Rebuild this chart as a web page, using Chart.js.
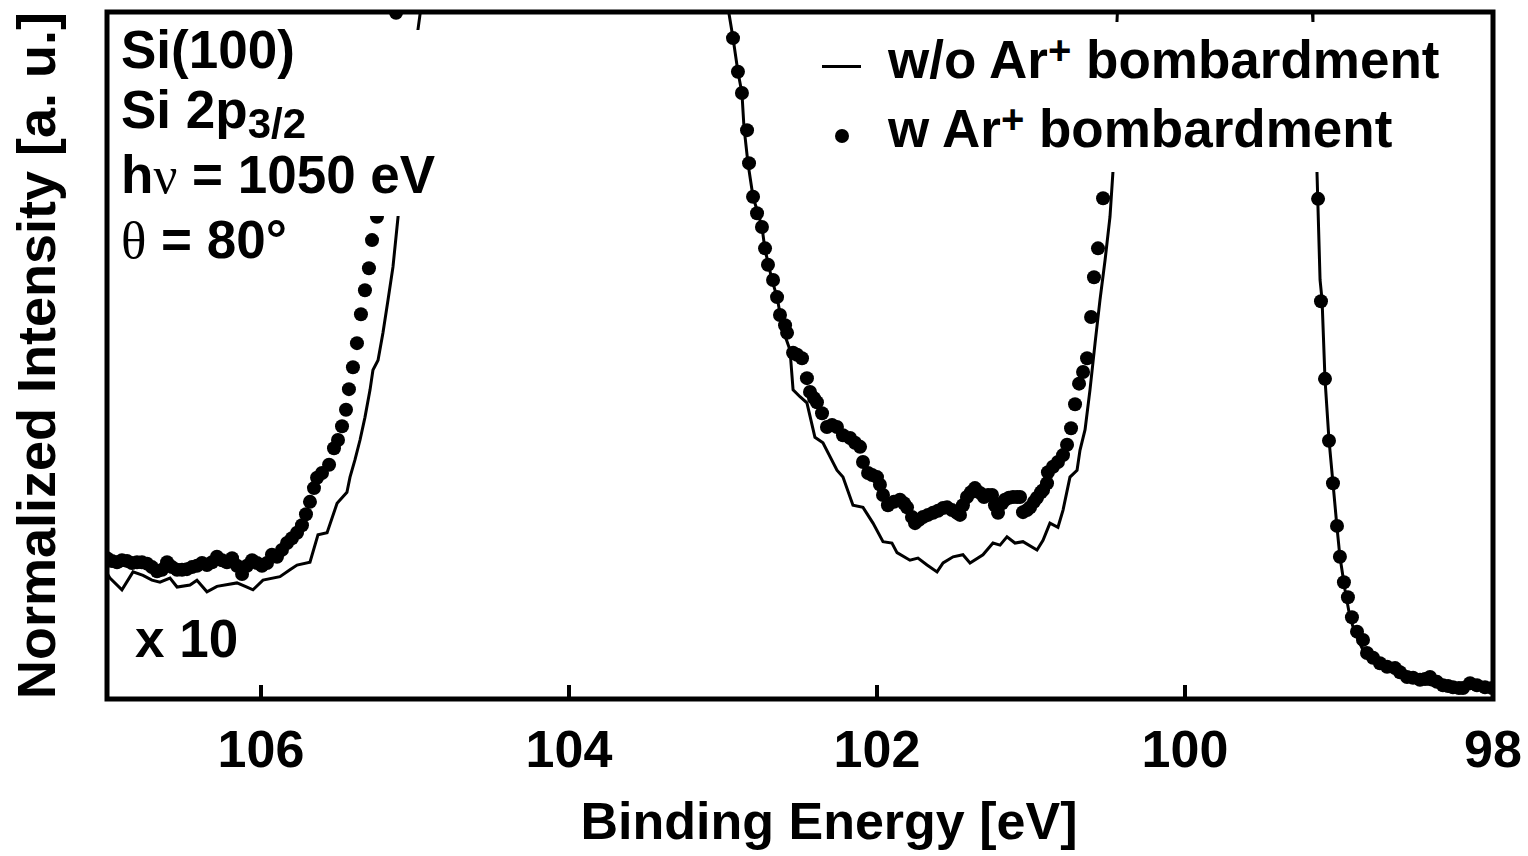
<!DOCTYPE html>
<html>
<head>
<meta charset="utf-8">
<script src="https://cdn.jsdelivr.net/npm/chart.js@4.4.1/dist/chart.umd.min.js"></script>
<style>
  html, body { margin: 0; padding: 0; background: #fff; }
  .wrap {
    position: relative;
    width: 1528px;
    height: 856px;
    font-family: "Liberation Sans", Arial, sans-serif;
    font-weight: bold;
    color: #000;
  }
  #spectrum { position: absolute; left: 0; top: 0; }
  .cover { position: absolute; background: #fff; }
  .txt { position: absolute; font-size: 53px; line-height: 53px; white-space: nowrap; }
  .greek { font-family: "Liberation Serif", "Times New Roman", serif; font-weight: normal; }
  .sub { font-size: 42px; position: relative; top: 10px; }
  .sup { font-size: 40px; position: relative; top: -14px; }
  .key-line { position: absolute; left: 822px; top: 65px; width: 39px; height: 3px; background: #000; }
  .key-dot { position: absolute; left: 835px; top: 129px; width: 14px; height: 14px; border-radius: 50%; background: #000; }
  .x-title { position: absolute; left: 529px; top: 795px; width: 600px; text-align: center; font-size: 52px; line-height: 52px; white-space: nowrap; }
</style>
</head>
<body>
<div class="wrap">
  <canvas id="spectrum" width="1528" height="856"></canvas>

  <!-- 텍스트 박스 (흰 배경이 곡선을 가림) -->
  <div class="cover" style="left:110px; top:30px; width:330px; height:186px;"></div>
  <div class="txt" style="left:121px; top:23px;">Si(100)</div>
  <div class="txt" style="left:121px; top:83px;">Si 2p<span class="sub">3/2</span></div>
  <div class="txt" style="left:121px; top:148px;">h<span class="greek">&nu;</span> = 1050 eV</div>
  <div class="txt" style="left:121px; top:213px;"><span class="greek">&theta;</span> = 80°</div>
  <div class="txt" style="left:135px; top:612px;">x 10</div>

  <!-- legend -->
  <div class="cover" style="left:800px; top:22px; width:650px; height:150px;"></div>
  <div class="key-line"></div>
  <div class="key-dot"></div>
  <div class="txt" style="left:888px; top:33px;">w/o Ar<span class="sup">+</span> bombardment</div>
  <div class="txt" style="left:888px; top:102px;">w Ar<span class="sup">+</span> bombardment</div>

  <!-- x 축 제목 -->
  <div class="x-title">Binding Energy [eV]</div>
</div>

<script>
// ---------- data -----------
// 결합 에너지 눈금
const tickValues = [106, 104, 102, 100, 98];

// w/o Ar+ : 실선 (100 이상은 그래프 밖으로 잘림)
const woEnergy = [
  107.000, 106.981, 106.903, 106.831, 106.766, 106.708, 106.656, 106.591, 106.545, 106.461,
  106.416, 106.351, 106.286, 106.156, 106.091, 106.052, 105.987, 105.877, 105.812, 105.766,
  105.682, 105.630, 105.571, 105.506, 105.442, 105.422, 105.390, 105.357, 105.325, 105.292,
  105.273, 105.240, 105.208, 105.175, 105.143, 105.110, 105.065, 105.019, 104.981, 104.961,
  104.942, 102.981, 102.968, 102.935, 102.903, 102.877, 102.864, 102.838, 102.805, 102.773,
  102.747, 102.727, 102.682, 102.649, 102.610, 102.565, 102.545, 102.500, 102.455, 102.403,
  102.351, 102.260, 102.221, 102.156, 102.091, 102.026, 101.961, 101.903, 101.870, 101.786,
  101.734, 101.675, 101.610, 101.571, 101.506, 101.442, 101.396, 101.312, 101.247, 101.201,
  101.156, 101.104, 101.052, 100.961, 100.922, 100.877, 100.825, 100.792, 100.747, 100.701,
  100.682, 100.649, 100.617, 100.584, 100.552, 100.519, 100.487, 100.468, 100.455, 100.442,
  100.429, 99.182, 99.175, 99.169, 99.143, 99.123, 99.110, 99.091, 99.065, 99.039,
  99.013, 98.994, 98.961, 98.929, 98.896, 98.844, 98.779, 98.688, 98.604, 98.494,
  98.390, 98.279, 98.169, 98.039, 98.000,
];
const woIntensity = [
  18.3, 17.6, 15.9, 18.5, 18.0, 17.3, 17.0, 17.6, 16.3, 16.6,
  17.3, 15.6, 16.4, 16.9, 16.3, 15.9, 17.3, 17.8, 18.8, 19.5,
  19.9, 23.9, 24.2, 28.5, 30.1, 32.3, 34.8, 37.7, 41.0, 45.0,
  47.9, 49.3, 53.3, 58.1, 62.9, 70.2, 79.9, 90.1, 97.4, 100.7,
  104.7, 104.7, 100.7, 96.2, 91.3, 88.2, 83.3, 78.0, 73.1, 70.7,
  68.7, 65.4, 61.0, 58.5, 53.7, 50.8, 45.0, 44.0, 43.1, 38.1,
  37.3, 33.3, 32.3, 28.2, 27.9, 25.6, 22.9, 22.7, 21.3, 20.2,
  20.5, 19.5, 18.5, 19.8, 20.7, 21.0, 19.8, 21.0, 22.7, 22.4,
  23.6, 22.7, 22.9, 21.7, 23.1, 25.6, 25.0, 27.5, 32.3, 33.3,
  36.2, 39.2, 45.0, 51.8, 58.1, 63.9, 70.2, 76.7, 87.2, 98.5,
  104.7, 104.7, 100.7, 98.5, 76.7, 61.0, 58.1, 46.6, 37.7, 31.4,
  25.0, 20.7, 15.9, 11.9, 9.6, 7.1, 5.7, 4.5, 3.5, 2.5,
  2.0, 1.7, 1.6, 1.3, 1.3,
];

// w Ar+ : 점
const wEnergy = [
  107.000, 106.968, 106.935, 106.903, 106.870, 106.838, 106.805, 106.773, 106.740, 106.708,
  106.675, 106.643, 106.610, 106.578, 106.545, 106.513, 106.481, 106.448, 106.416, 106.383,
  106.351, 106.318, 106.286, 106.253, 106.221, 106.188, 106.156, 106.123, 106.091, 106.058,
  106.026, 105.994, 105.961, 105.929, 105.896, 105.864, 105.831, 105.799, 105.766, 105.734,
  105.708, 105.682, 105.656, 105.636, 105.604, 105.558, 105.526, 105.500, 105.474, 105.448,
  105.429, 105.403, 105.377, 105.351, 105.325, 105.299, 105.279, 105.247, 105.227, 105.208,
  105.188, 105.169, 105.156, 105.136, 105.123,
  102.935, 102.903, 102.877, 102.844, 102.831, 102.805, 102.779, 102.747, 102.727, 102.708,
  102.675, 102.649, 102.630, 102.597, 102.584, 102.545, 102.519, 102.487, 102.455, 102.435,
  102.409, 102.390, 102.357, 102.325, 102.292, 102.260, 102.221, 102.175, 102.143, 102.110,
  102.091, 102.058, 102.032, 102.000, 101.981, 101.961, 101.929, 101.890, 101.851, 101.825,
  101.805, 101.773, 101.753, 101.727, 101.701, 101.669, 101.636, 101.604, 101.571, 101.545,
  101.513, 101.481, 101.461, 101.442, 101.416, 101.390, 101.364, 101.331, 101.305, 101.279,
  101.253, 101.234, 101.214, 101.188, 101.169, 101.143, 101.117, 101.091, 101.071, 101.052,
  101.026, 101.006, 100.981, 100.961, 100.935, 100.922, 100.896, 100.890, 100.857, 100.825,
  100.792, 100.766, 100.740, 100.714, 100.688, 100.662, 100.636, 100.610, 100.591, 100.565,
  100.532, 100.513, 100.494, 100.474,
  99.149, 99.136, 99.117, 99.091, 99.065, 99.039, 99.013, 98.994, 98.968, 98.942,
  98.916, 98.883, 98.844, 98.818, 98.779, 98.734, 98.688, 98.636, 98.604, 98.558,
  98.519, 98.474, 98.442, 98.409, 98.364, 98.325, 98.292, 98.260, 98.221, 98.195,
  98.149, 98.104, 98.052, 98.006,
];
const wIntensity = [
  20.5, 20.1, 19.9, 20.2, 20.1, 19.8, 19.9, 19.9, 19.7, 19.2,
  18.6, 18.8, 19.9, 19.2, 18.8, 18.8, 18.9, 19.2, 19.4, 19.8,
  19.5, 19.9, 20.7, 20.2, 19.9, 20.5, 19.4, 18.2, 19.4, 20.2,
  19.8, 19.4, 19.8, 21.0, 20.7, 21.7, 22.7, 23.4, 24.2, 25.3,
  26.9, 28.7, 30.7, 32.2, 32.9, 34.1, 36.5, 37.7, 39.7, 42.1,
  45.1, 48.3, 51.8, 56.0, 59.5, 62.7, 66.8, 70.2, 74.1, 78.5,
  82.8, 87.2, 91.6, 95.9, 99.9,
  96.2, 91.3, 88.2, 82.8, 78.0, 73.1, 70.7, 68.7, 65.6, 63.2,
  61.0, 58.5, 55.9, 54.4, 53.3, 50.4, 50.1, 49.6, 46.7, 44.7,
  43.8, 43.2, 41.6, 39.6, 39.9, 39.6, 38.4, 38.0, 37.3, 36.7,
  34.5, 32.9, 32.6, 32.3, 31.2, 29.7, 28.2, 28.7, 29.0, 28.5,
  27.9, 26.5, 25.6, 26.1, 26.5, 26.8, 27.1, 27.4, 27.8, 27.9,
  27.5, 27.1, 26.8, 28.2, 29.4, 30.1, 30.7, 30.0, 29.4, 29.7,
  29.7, 28.2, 27.1, 28.5, 29.0, 29.3, 29.4, 29.4, 29.4, 27.2,
  27.5, 27.9, 28.7, 29.3, 30.1, 30.4, 31.4, 33.0, 33.8, 34.5,
  35.5, 37.0, 39.4, 42.9, 45.9, 47.6, 49.6, 55.6, 61.4, 65.6,
  72.9, 79.9, 87.2, 94.5,
  84.3, 72.8, 57.9, 46.6, 37.6, 31.4, 25.2, 20.7, 17.0, 14.8,
  11.9, 9.8, 8.6, 6.7, 6.0, 5.2, 4.7, 4.5, 3.9, 3.2,
  3.1, 2.8, 2.9, 3.2, 2.5, 2.0, 1.9, 1.7, 1.6, 1.6,
  2.3, 2.0, 1.7, 1.6,
];

// x, y 쌍으로 묶기
function toPoints(energy, intensity) {
  const n = Math.min(energy.length, intensity.length);
  const points = [];
  for (let i = 0; i < n; i += 1) {
    points.push({ x: energy[i], y: intensity[i] });
  }
  return points;
}

// ---------- 프레임 & 안쪽 눈금 ----------
const framePlugin = {
  id: 'frame',
  afterDatasetsDraw(chart) {
    const { ctx, chartArea, scales } = chart;
    const { left, top, right, bottom } = chartArea;
    ctx.save();
    ctx.strokeStyle = '#000';
    ctx.lineWidth = 4;
    tickValues.forEach((v) => {
      const px = scales.x.getPixelForValue(v);
      ctx.beginPath();
      ctx.moveTo(px, bottom);
      ctx.lineTo(px, bottom - 14);
      ctx.stroke();
    });
    ctx.lineWidth = 5;
    ctx.strokeRect(left, top, right - left, bottom - top);
    ctx.restore();
  },
};

// ---------- chart -----------
const font = '"Liberation Sans", Arial, sans-serif';

const data = {
  datasets: [
    {
      label: 'w/o Ar+ bombardment',
      data: toPoints(woEnergy, woIntensity),
      showLine: true,
      borderColor: '#000',
      borderWidth: 3,
      pointRadius: 0,
      tension: 0,
    },
    {
      label: 'w Ar+ bombardment',
      data: toPoints(wEnergy, wIntensity),
      showLine: false,
      pointRadius: 7,
      pointBorderWidth: 0,
      pointBackgroundColor: '#000',
    },
  ],
};

const config = {
  type: 'scatter',
  data: data,
  options: {
    responsive: false,
    animation: false,
    events: [],
    layout: {
      padding: { top: 12, right: 35, left: 0, bottom: 0 },
    },
    plugins: {
      legend: { display: false },
      title: { display: false },
      tooltip: { enabled: false },
    },
    scales: {
      x: {
        type: 'linear',
        reverse: true,
        min: 98,
        max: 107,
        afterBuildTicks: (scale) => {
          scale.ticks = tickValues.map((v) => ({ value: v }));
        },
        afterFit: (scale) => {
          // 레이블 여백이 그래프 영역을 줄이지 않도록
          scale.height = 157;
          scale.paddingLeft = 0;
          scale.paddingRight = 0;
        },
        grid: { display: false, drawTicks: false },
        border: { display: false },
        ticks: {
          color: '#000',
          padding: 22,
          maxRotation: 0,
          font: { family: font, size: 52, weight: 'bold' },
        },
      },
      y: {
        type: 'linear',
        min: 0,
        max: 100,
        afterFit: (scale) => {
          scale.width = 107;
        },
        grid: { display: false, drawTicks: false },
        border: { display: false },
        ticks: { display: false },
        title: {
          display: true,
          text: 'Normalized Intensity [a. u.]',
          color: '#000',
          padding: { top: 8, bottom: 0 },
          font: { family: font, size: 54, weight: 'bold' },
        },
      },
    },
  },
  plugins: [framePlugin],
};

let myChart = new Chart(document.getElementById('spectrum'), config);
</script>
</body>
</html>
